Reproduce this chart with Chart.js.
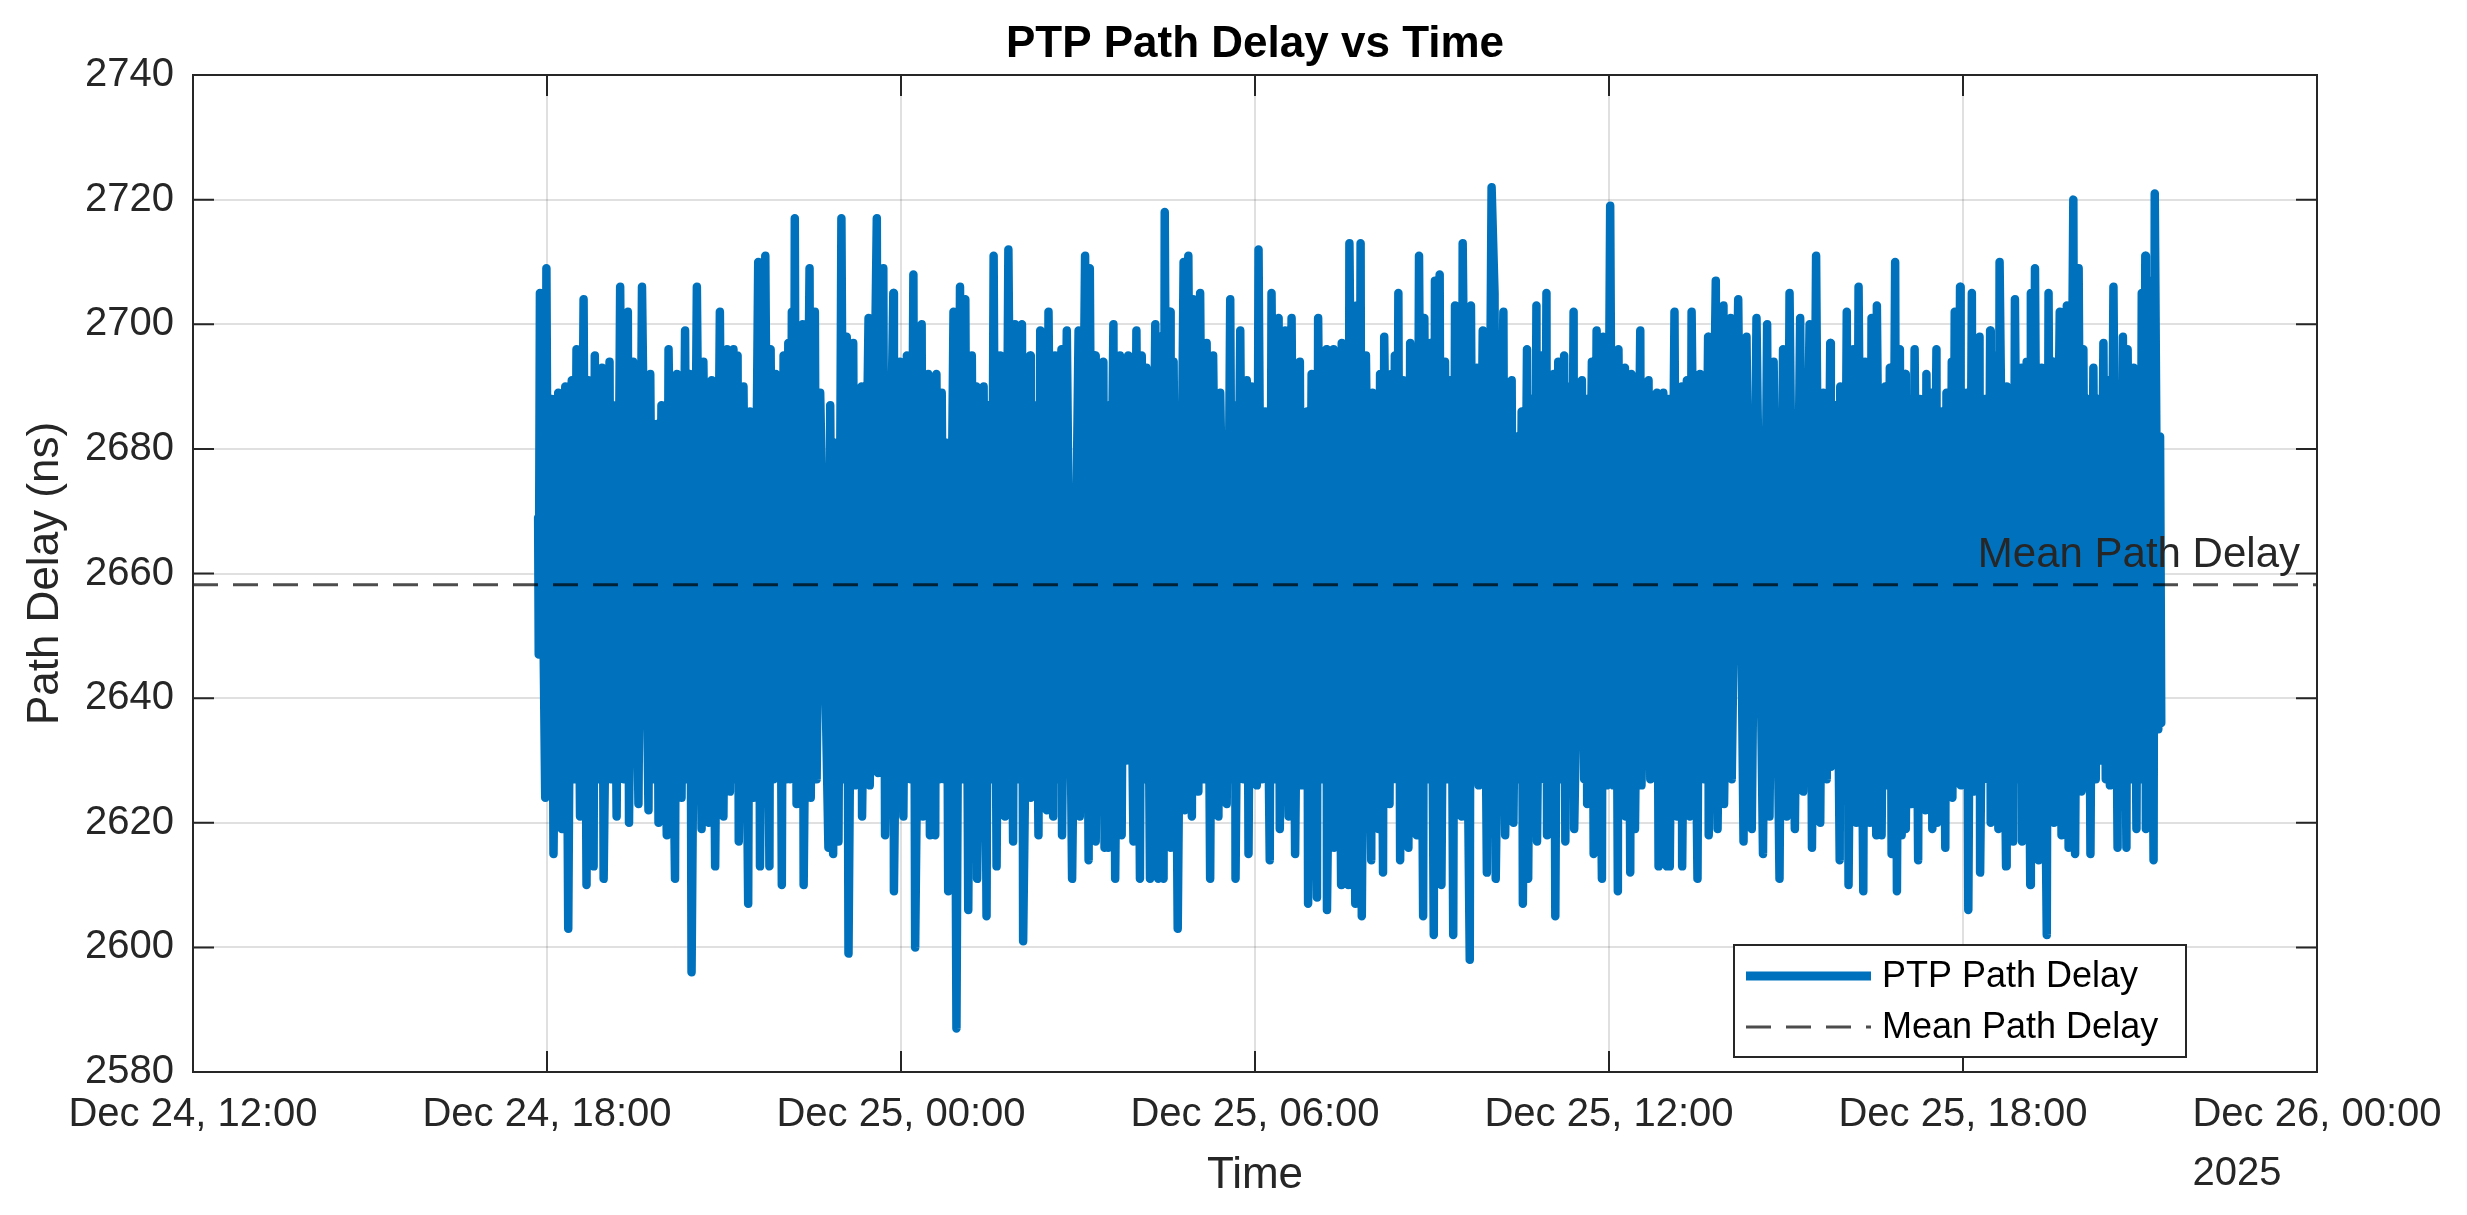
<!DOCTYPE html>
<html>
<head>
<meta charset="utf-8">
<title>PTP Path Delay vs Time</title>
<script src="https://cdn.jsdelivr.net/npm/chart.js@4.4.1/dist/chart.umd.min.js"></script>
<style>
  html, body { margin: 0; padding: 0; background: #ffffff; }
  #wrap { width: 2467px; height: 1215px; }
</style>
</head>
<body>
<div id="wrap"><canvas id="delayChart" width="2467" height="1215"></canvas></div>
<script>
// x values are hours since Dec 24 00:00 (2025)
const xTickHours = [12, 18, 24, 30, 36, 42, 48];
const xTickLabels = ["Dec 24, 12:00", "Dec 24, 18:00", "Dec 25, 00:00", "Dec 25, 06:00",
  "Dec 25, 12:00", "Dec 25, 18:00", "Dec 26, 00:00"];
const xAxisYear = "2025";
const yTickValues = [2580, 2600, 2620, 2640, 2660, 2680, 2700, 2720, 2740];
const meanDelayNs = 2658.2;

// [hour, path delay in ns] (peaks, dips and band edges)
const delaySamples = [
  [17.85,2669],[17.86,2647],[17.88,2705],[17.97,2624],[17.99,2709],[18.03,2627],[18.08,2688],[18.11,2615],
  [18.19,2689],[18.25,2619],[18.31,2690],[18.36,2603],[18.42,2691],[18.46,2627],[18.50,2696],[18.56,2621],
  [18.62,2704],[18.67,2610],[18.70,2691],[18.79,2613],[18.81,2695],[18.87,2627],[18.93,2693],[18.96,2611],
  [19.06,2694],[19.08,2627],[19.13,2687],[19.18,2621],[19.24,2706],[19.30,2627],[19.37,2702],[19.39,2620],
  [19.46,2694],[19.55,2623],[19.61,2706],[19.72,2622],[19.75,2692],[19.80,2627],[19.86,2684],[19.89,2620],
  [19.94,2687],[20.03,2618],[20.06,2696],[20.17,2611],[20.20,2692],[20.28,2624],[20.34,2699],[20.38,2627],
  [20.42,2692],[20.45,2596],[20.54,2706],[20.62,2619],[20.65,2694],[20.74,2620],[20.79,2691],[20.85,2613],
  [20.93,2702],[20.99,2621],[21.05,2696],[21.10,2625],[21.16,2696],[21.20,2627],[21.23,2695],[21.25,2617],
  [21.33,2690],[21.41,2607],[21.44,2686],[21.50,2624],[21.58,2710],[21.61,2613],[21.70,2711],[21.77,2613],
  [21.79,2696],[21.84,2627],[21.88,2692],[21.90,2629],[21.94,2687],[21.98,2610],[22.01,2695],[22.06,2627],
  [22.09,2697],[22.12,2627],[22.15,2702],[22.18,2627],[22.20,2717],[22.23,2623],
  [22.33,2700],[22.35,2610],[22.45,2709],[22.47,2624],[22.54,2702],[22.57,2627],[22.63,2689],[22.77,2616],
  [22.80,2687],[22.85,2615],[22.88,2681],[22.94,2617],[22.99,2717],[23.04,2627],[23.08,2698],[23.11,2599],
  [23.19,2697],[23.22,2626],[23.33,2690],[23.34,2621],[23.45,2701],[23.47,2626],[23.59,2717],[23.61,2628],
  [23.70,2709],[23.73,2618],[23.87,2705],[23.88,2609],[23.98,2694],[24.04,2621],[24.10,2695],[24.16,2627],
  [24.21,2708],[24.24,2600],[24.35,2700],[24.37,2621],[24.46,2692],[24.49,2618],[24.54,2687],[24.58,2618],
  [24.60,2692],[24.65,2627],[24.69,2689],[24.73,2627],[24.77,2681],[24.80,2609],[24.89,2702],[24.94,2587],
  [25.00,2706],[25.05,2627],[25.09,2704],[25.14,2606],[25.20,2695],[25.24,2627],[25.28,2690],[25.29,2611],
  [25.40,2690],[25.45,2605],[25.48,2687],[25.53,2627],[25.57,2711],[25.62,2613],[25.68,2695],[25.76,2621],
  [25.82,2712],[25.90,2617],[25.93,2700],[26.00,2627],[26.05,2700],[26.07,2601],[26.19,2695],[26.20,2624],
  [26.27,2687],[26.33,2618],[26.36,2699],[26.47,2622],[26.50,2702],[26.58,2621],[26.61,2695],[26.67,2627],
  [26.72,2696],[26.73,2618],[26.81,2699],
  [26.90,2611],[27.01,2699],[27.03,2621],[27.12,2711],[27.18,2614],[27.20,2709],[27.25,2627],[27.29,2695],
  [27.30,2617],[27.37,2685],[27.40,2627],[27.43,2694],[27.45,2616],[27.48,2687],[27.51,2616],[27.60,2700],
  [27.63,2611],[27.71,2695],[27.74,2618],[27.78,2687],[27.82,2630],[27.85,2695],[27.94,2617],[27.99,2699],
  [28.05,2611],[28.08,2695],[28.12,2627],[28.16,2693],[28.22,2611],[28.31,2700],[28.36,2611],[28.39,2698],
  [28.45,2611],[28.47,2718],[28.52,2627],[28.56,2702],[28.57,2616],[28.62,2694],[28.69,2603],[28.79,2710],
  [28.81,2622],[28.87,2711],[28.93,2621],[28.95,2704],[29.04,2625],[29.07,2705],[29.13,2627],[29.18,2697],
  [29.24,2611],[29.29,2695],[29.38,2621],[29.41,2689],[29.52,2623],[29.58,2704],[29.62,2627],[29.66,2687],
  [29.67,2611],[29.75,2699],[29.80,2627],[29.86,2691],[29.89,2615],[29.94,2690],[30.03,2626],[30.06,2712],
  [30.12,2627],[30.17,2686],[30.25,2614],[30.28,2705],[30.34,2627],[30.40,2701],[30.42,2619],[30.51,2699],
  [30.57,2621],[30.62,2701],[30.68,2615],[30.76,2694],[30.79,2626],[30.88,2686],[30.90,2607],[30.96,2692],
  [31.05,2608],[31.07,2701],[31.14,2627],[31.21,2696],[31.22,2606],[31.33,2696],[31.34,2616],[31.40,2687],
  [31.46,2610],[31.47,2697],
  [31.58,2610],[31.60,2713],[31.70,2607],[31.72,2703],[31.76,2627],[31.79,2713],[31.81,2605],[31.88,2695],
  [31.97,2614],[31.99,2689],[32.09,2619],[32.12,2692],[32.17,2612],[32.19,2698],[32.28,2623],[32.31,2692],
  [32.34,2627],[32.37,2695],[32.40,2627],[32.43,2705],[32.46,2614],[32.51,2691],[32.60,2616],[32.63,2697],
  [32.74,2618],[32.78,2711],[32.85,2605],[32.87,2701],[32.92,2627],[32.97,2697],[33.03,2602],[33.05,2707],
  [33.09,2627],[33.13,2708],[33.16,2610],[33.22,2694],[33.27,2627],[33.31,2691],[33.36,2602],[33.39,2703],
  [33.50,2621],[33.52,2713],[33.64,2598],[33.66,2703],[33.71,2627],[33.76,2693],[33.79,2626],[33.86,2699],
  [33.93,2612],[34.01,2722],[34.06,2705],[34.08,2611],[34.21,2702],[34.24,2618],[34.35,2691],[34.38,2620],
  [34.44,2682],[34.48,2627],[34.52,2686],[34.54,2607],[34.61,2696],[34.63,2611],[34.69,2688],[34.73,2627],
  [34.77,2703],[34.78,2617],[34.86,2695],[34.90,2627],[34.94,2705],[34.95,2618],[35.06,2692],[35.09,2605],
  [35.14,2694],[35.19,2627],[35.24,2695],[35.26,2617],[35.31,2690],[35.35,2627],[35.40,2702],[35.41,2619],
  [35.54,2691],[35.58,2627],[35.62,2688],[35.63,2623],[35.71,2694],[35.74,2615],[35.79,2699],[35.88,2611],
  [35.90,2698],[35.96,2626],[36.02,2719],
  [36.07,2626],[36.11,2687],[36.15,2609],[36.16,2696],[36.22,2627],[36.27,2693],[36.28,2621],[36.32,2687],
  [36.36,2612],[36.38,2692],[36.44,2619],[36.53,2699],[36.55,2626],[36.67,2691],[36.70,2627],[36.81,2689],
  [36.84,2613],[36.92,2689],[36.98,2613],[37.01,2688],[37.03,2613],[37.11,2702],[37.15,2621],[37.23,2690],
  [37.24,2613],[37.32,2691],[37.37,2621],[37.40,2702],[37.50,2611],[37.54,2692],[37.61,2627],[37.68,2698],
  [37.69,2618],[37.81,2707],[37.84,2619],[37.94,2703],[37.95,2623],[38.06,2701],[38.08,2627],[38.19,2704],
  [38.28,2617],[38.33,2698],[38.42,2619],[38.50,2701],[38.61,2615],[38.68,2700],[38.72,2621],[38.79,2694],
  [38.89,2611],[38.95,2696],[39.01,2621],[39.06,2705],[39.15,2619],[39.24,2701],[39.29,2625],[39.40,2700],
  [39.44,2616],[39.51,2711],[39.58,2620],[39.63,2689],[39.69,2627],[39.75,2697],[39.76,2629],[39.84,2687],
  [39.91,2614],[39.92,2690],[39.98,2627],[40.03,2702],[40.06,2610],[40.14,2696],[40.19,2620],[40.23,2706],
  [40.31,2609],[40.34,2694],[40.42,2620],[40.45,2701],[40.53,2618],[40.54,2703],
  [40.62,2618],[40.68,2690],[40.71,2626],[40.76,2693],[40.79,2615],[40.85,2710],[40.88,2609],[40.93,2696],
  [40.96,2618],[41.02,2692],[41.03,2619],[41.10,2688],[41.13,2623],[41.18,2696],[41.24,2614],[41.27,2688],
  [41.36,2622],[41.38,2692],[41.43,2627],[41.47,2689],[41.48,2619],[41.55,2696],[41.56,2620],[41.64,2686],
  [41.70,2616],[41.72,2689],[41.77,2627],[41.81,2694],[41.82,2624],[41.86,2702],[41.91,2627],[41.95,2706],
  [41.96,2626],[42.06,2689],[42.09,2606],[42.15,2705],[42.17,2625],[42.28,2698],[42.29,2612],[42.37,2688],
  [42.42,2627],[42.46,2699],[42.47,2620],[42.54,2695],[42.60,2619],[42.62,2710],[42.73,2613],[42.74,2690],
  [42.85,2617],[42.88,2704],[42.94,2627],[42.99,2693],[43.00,2617],[43.08,2694],[43.14,2610],[43.15,2705],
  [43.19,2627],[43.22,2709],[43.28,2614],[43.33,2693],[43.42,2602],[43.45,2705],[43.49,2627],[43.53,2694],
  [43.54,2620],[43.64,2702],[43.67,2618],[43.76,2703],[43.79,2616],[43.87,2720],[43.90,2615],[43.96,2709],
  [44.01,2625],[44.04,2696],[44.08,2627],[44.12,2688],[44.16,2615],[44.21,2693],[44.25,2627],[44.29,2688],
  [44.32,2630],[44.38,2697],[44.42,2627],[44.46,2691],[44.49,2626],[44.55,2706],[44.62,2616],[44.63,2685],
  [44.67,2627],[44.71,2698],[44.77,2616],[44.79,2696],[44.84,2627],[44.89,2693],[44.94,2619],[44.97,2688],
  [45.00,2627],[45.03,2705],[45.06,2627],[45.09,2711],[45.10,2619],[45.17,2707],[45.23,2614],[45.25,2721],
  [45.31,2635],[45.34,2682],[45.36,2636]
];

const FONT = "'Liberation Sans', Arial, Helvetica, sans-serif";
const AXIS_COLOR = "#262626";
const TICK_LEN = 21;

// box, inward ticks, title, mean label, year and legend (MATLAB look)
const matlabAxes = {
  id: "matlabAxes",
  afterDraw(chart) {
    const { ctx, chartArea: area, scales } = chart;
    const xs = scales.x, ys = scales.y;
    ctx.save();

    // mean label above the dashed line
    const meanY = ys.getPixelForValue(meanDelayNs);
    ctx.font = "42px " + FONT;
    ctx.fillStyle = AXIS_COLOR;
    ctx.textAlign = "right";
    ctx.textBaseline = "alphabetic";
    ctx.fillText("Mean Path Delay", area.right - 17, meanY - 18);

    // axes box and ticks
    ctx.strokeStyle = AXIS_COLOR;
    ctx.lineWidth = 2;
    ctx.strokeRect(area.left, area.top, area.right - area.left, area.bottom - area.top);
    ctx.beginPath();
    xTickHours.forEach((h) => {
      const px = xs.getPixelForValue(h);
      ctx.moveTo(px, area.bottom); ctx.lineTo(px, area.bottom - TICK_LEN);
      ctx.moveTo(px, area.top); ctx.lineTo(px, area.top + TICK_LEN);
    });
    yTickValues.forEach((v) => {
      const py = ys.getPixelForValue(v);
      ctx.moveTo(area.left, py); ctx.lineTo(area.left + TICK_LEN, py);
      ctx.moveTo(area.right, py); ctx.lineTo(area.right - TICK_LEN, py);
    });
    ctx.stroke();

    // title
    ctx.font = "bold 44px " + FONT;
    ctx.fillStyle = "#000000";
    ctx.textAlign = "center";
    ctx.fillText("PTP Path Delay vs Time", (area.left + area.right) / 2, 57);

    // year under the last tick label, left aligned with it
    ctx.font = "40px " + FONT;
    const lastLabel = xTickLabels[xTickLabels.length - 1];
    const lastX = xs.getPixelForValue(xTickHours[xTickHours.length - 1]);
    const labelLeft = lastX - ctx.measureText(lastLabel).width / 2;
    ctx.fillStyle = AXIS_COLOR;
    ctx.textAlign = "left";
    ctx.fillText(xAxisYear, labelLeft, 1185);

    // legend box
    const boxW = 452, boxH = 112;
    const boxX = area.right - 131 - boxW;
    const boxY = area.bottom - 15 - boxH;
    ctx.fillStyle = "#ffffff";
    ctx.fillRect(boxX, boxY, boxW, boxH);
    ctx.strokeStyle = AXIS_COLOR;
    ctx.lineWidth = 2;
    ctx.strokeRect(boxX, boxY, boxW, boxH);

    const legendOrder = [1, 0];
    legendOrder.forEach((di, row) => {
      const ds = chart.data.datasets[di];
      const ly = boxY + 31 + row * 51;
      ctx.beginPath();
      ctx.strokeStyle = ds.borderColor;
      ctx.lineWidth = di === 1 ? 9 : ds.borderWidth;
      ctx.setLineDash(ds.borderDash || []);
      ctx.lineCap = "butt";
      ctx.moveTo(boxX + 12, ly);
      ctx.lineTo(boxX + 137, ly);
      ctx.stroke();
      ctx.setLineDash([]);
      ctx.font = "36px " + FONT;
      ctx.fillStyle = "#000000";
      ctx.textAlign = "left";
      ctx.textBaseline = "middle";
      ctx.fillText(ds.label, boxX + 148, ly + 1);
    });

    ctx.restore();
  }
};

document.addEventListener("DOMContentLoaded", function () {
  const ctx = document.getElementById("delayChart").getContext("2d");

  new Chart(ctx, {
    type: "line",
    data: {
      datasets: [
        {
          label: "Mean Path Delay",
          data: [{ x: xTickHours[0], y: meanDelayNs }, { x: xTickHours[xTickHours.length - 1], y: meanDelayNs }],
          borderColor: "rgba(0,0,0,0.7)",
          borderWidth: 3,
          borderDash: [25, 15],
          pointRadius: 0,
          order: 0
        },
        {
          label: "PTP Path Delay",
          data: delaySamples.map((s) => ({ x: s[0], y: s[1] })),
          borderColor: "#0072BD",
          borderWidth: 8.5,
          borderCapStyle: "round",
          borderJoinStyle: "round",
          pointRadius: 0,
          order: 1
        }
      ]
    },
    options: {
      responsive: false,
      devicePixelRatio: 1,
      animation: false,
      events: [],
      layout: { padding: { left: 0, right: 150, top: 75, bottom: 0 } },
      plugins: {
        legend: { display: false },
        tooltip: { enabled: false },
        title: { display: false }
      },
      scales: {
        x: {
          type: "linear",
          min: xTickHours[0],
          max: xTickHours[xTickHours.length - 1],
          afterBuildTicks: (scale) => { scale.ticks = xTickHours.map((v) => ({ value: v })); },
          afterFit: (scale) => { scale.height = 143; },
          ticks: {
            autoSkip: false,
            maxRotation: 0,
            padding: 19,
            color: AXIS_COLOR,
            font: { family: FONT, size: 40 },
            callback: (value, index) => xTickLabels[index]
          },
          grid: { color: "rgba(38,38,38,0.14)", lineWidth: 2, drawTicks: false },
          border: { display: false },
          title: {
            display: true,
            text: "Time",
            color: AXIS_COLOR,
            font: { family: FONT, size: 44 },
            padding: { top: 0, bottom: 13 }
          }
        },
        y: {
          type: "linear",
          min: yTickValues[0],
          max: yTickValues[yTickValues.length - 1],
          afterBuildTicks: (scale) => { scale.ticks = yTickValues.map((v) => ({ value: v })); },
          afterFit: (scale) => { scale.width = 193; },
          ticks: {
            padding: 19,
            color: AXIS_COLOR,
            font: { family: FONT, size: 40 },
            callback: (value) => String(value)
          },
          grid: { color: "rgba(38,38,38,0.14)", lineWidth: 2, drawTicks: false },
          border: { display: false },
          title: {
            display: true,
            text: "Path Delay (ns)",
            color: AXIS_COLOR,
            font: { family: FONT, size: 44 },
            padding: { top: 19, bottom: 0 }
          }
        }
      }
    },
    plugins: [matlabAxes]
  });
});
</script>
</body>
</html>
